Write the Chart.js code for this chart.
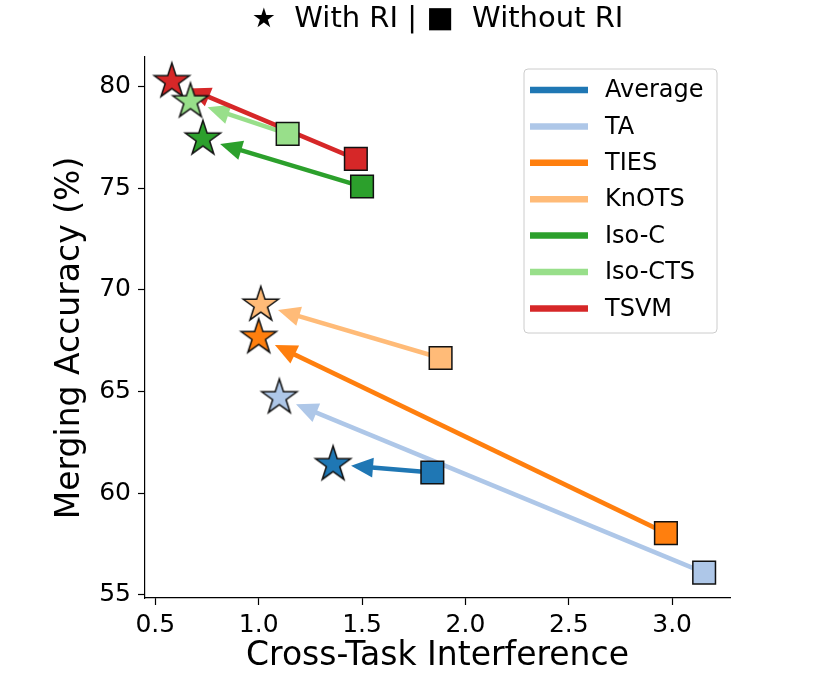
<!DOCTYPE html>
<html>
<head>
<meta charset="utf-8">
<script src="https://cdn.jsdelivr.net/npm/chart.js@4"></script>
<style>
  body { margin: 0; background: #fff; }
  canvas { display: block; }
</style>
</head>
<body>
<canvas id="chart" width="816" height="688"></canvas>
<script>
// merging methods: square = without RI, star = with RI
const methods = ["Average", "TA", "TIES", "KnOTS", "Iso-C", "Iso-CTS", "TSVM"];
const colors = ["#1f77b4", "#aec7e8", "#ff7f0e", "#ffbb78", "#2ca02c", "#98df8a", "#d62728"];

const withoutX = [1.84, 3.155, 2.97, 1.88, 1.50, 1.14, 1.47];
const withoutY = [61.02, 56.1, 58.04, 66.65, 75.08, 77.67, 76.44];
const withX = [1.36, 1.10, 1.00, 1.01, 0.73, 0.67, 0.58];
const withY = [61.42, 64.71, 67.67, 69.26, 77.43, 79.26, 80.25];

const xTicks = [0.5, 1.0, 1.5, 2.0, 2.5, 3.0];
const yTicks = [55, 60, 65, 70, 75, 80];

const FONT = "'DejaVu Sans', sans-serif";
const $ = (id) => document.getElementById(id);

function makeStar(color) {
  const c = document.createElement("canvas");
  c.width = c.height = 46;
  const g = c.getContext("2d");
  const R = 18.5, r = R * 0.382;
  g.beginPath();
  for (let k = 0; k < 10; k++) {
    const a = -Math.PI / 2 + k * Math.PI / 5;
    const rad = k % 2 ? r : R;
    const px = 23 + rad * Math.cos(a), py = 23 + rad * Math.sin(a);
    if (k === 0) g.moveTo(px, py); else g.lineTo(px, py);
  }
  g.closePath();
  g.fillStyle = color;
  g.fill();
  g.lineWidth = 1.5;
  g.lineJoin = "miter";
  g.strokeStyle = "#111";
  g.stroke();
  return c;
}

const datasets = methods.map((m, i) => ({
  label: m,
  data: [{ x: withoutX[i], y: withoutY[i] }, { x: withX[i], y: withY[i] }],
  pointStyle: ["rect", makeStar(colors[i])],
  pointRadius: 16,
  backgroundColor: colors[i],
  borderColor: "#111",
  borderWidth: 1.5,
  showLine: false,
}));

// arrows from square to star, drawn under the markers
const arrowPlugin = {
  id: "arrows",
  beforeDatasetsDraw(chart) {
    const { ctx } = chart;
    const xs = chart.scales.x, ys = chart.scales.y;
    ctx.save();
    methods.forEach((m, i) => {
      const x0 = xs.getPixelForValue(withoutX[i]), y0 = ys.getPixelForValue(withoutY[i]);
      const x1 = xs.getPixelForValue(withX[i]), y1 = ys.getPixelForValue(withY[i]);
      const len = Math.hypot(x1 - x0, y1 - y0);
      const dx = (x1 - x0) / len, dy = (y1 - y0) / len;
      const tx = x1 - dx * 18, ty = y1 - dy * 18;
      const hl = 22, hw = 10;
      const bx = tx - dx * hl, by = ty - dy * hl;
      ctx.strokeStyle = colors[i];
      ctx.fillStyle = colors[i];
      ctx.lineWidth = 4.5;
      ctx.beginPath();
      ctx.moveTo(x0, y0);
      ctx.lineTo(bx + dx * 4, by + dy * 4);
      ctx.stroke();
      ctx.beginPath();
      ctx.moveTo(tx, ty);
      ctx.lineTo(bx - dy * hw, by + dx * hw);
      ctx.lineTo(bx + dy * hw, by - dx * hw);
      ctx.closePath();
      ctx.fill();
    });
    ctx.restore();
  },
};

// legend box inside the axes, top right
const legendPlugin = {
  id: "boxLegend",
  afterDraw(chart) {
    const { ctx, chartArea } = chart;
    const w = 193, h = 264;
    const left = chartArea.right - 13 - w, top = chartArea.top + 12;
    ctx.save();
    ctx.beginPath();
    ctx.roundRect(left, top, w, h, 4);
    ctx.fillStyle = "rgba(255,255,255,0.8)";
    ctx.fill();
    ctx.strokeStyle = "#cccccc";
    ctx.lineWidth = 1;
    ctx.stroke();
    ctx.font = "24px " + FONT;
    ctx.textBaseline = "middle";
    ctx.textAlign = "left";
    methods.forEach((m, i) => {
      const y = top + 21 + i * 36.4;
      ctx.strokeStyle = colors[i];
      ctx.lineWidth = 6.5;
      ctx.beginPath();
      ctx.moveTo(left + 6, y);
      ctx.lineTo(left + 64, y);
      ctx.stroke();
      ctx.fillStyle = "#000";
      ctx.fillText(m, left + 81, y + 1);
    });
    ctx.restore();
  },
};

// title centred over the axes
const titlePlugin = {
  id: "topTitle",
  afterDraw(chart) {
    const { ctx, chartArea } = chart;
    const parts = [
      { t: "★", f: "27px " + FONT },
      { t: "  With RI | ", f: "29px " + FONT },
      { t: "■", f: "29px " + FONT },
      { t: "  Without RI", f: "29px " + FONT },
    ];
    ctx.save();
    ctx.fillStyle = "#000";
    ctx.textBaseline = "alphabetic";
    let total = 0;
    parts.forEach((p) => { ctx.font = p.f; p.w = ctx.measureText(p.t).width; total += p.w; });
    let x = (chartArea.left + chartArea.right) / 2 - total / 2;
    parts.forEach((p) => {
      ctx.font = p.f;
      ctx.fillText(p.t, x, 27);
      x += p.w;
    });
    ctx.restore();
  },
};

const axisCommon = {
  type: "linear",
  grid: { display: true, drawOnChartArea: false, drawTicks: true, tickLength: 7, tickWidth: 1.2, tickColor: "#000" },
  border: { display: true, color: "#000", width: 1.2 },
};

new Chart($("chart"), {
  type: "scatter",
  data: { datasets },
  options: {
    responsive: false,
    animation: false,
    events: [],
    layout: { padding: { left: 0, top: 57, right: 86, bottom: 0 } },
    plugins: { legend: { display: false }, tooltip: { enabled: false }, title: { display: false } },
    scales: {
      x: {
        ...axisCommon,
        position: "bottom",
        min: 0.45,
        max: 3.28,
        afterBuildTicks: (s) => { s.ticks = xTicks.map((value) => ({ value })); },
        afterFit: (s) => { s.height = 90; },
        ticks: { color: "#000", padding: 5, font: { family: FONT, size: 25 }, callback: (v) => Number(v).toFixed(1) },
        title: { display: true, text: "Cross-Task Interference", color: "#000", font: { family: FONT, size: 33 }, padding: { top: 0, bottom: 12 } },
      },
      y: {
        ...axisCommon,
        position: "left",
        min: 54.85,
        max: 81.45,
        afterBuildTicks: (s) => { s.ticks = yTicks.map((value) => ({ value })); },
        afterFit: (s) => { s.width = 145; },
        ticks: { color: "#000", padding: 7, font: { family: FONT, size: 25 }, callback: (v) => String(v) },
        title: { display: true, text: "Merging Accuracy (%)  ", color: "#000", font: { family: FONT, size: 33 }, padding: { top: 51, bottom: 0 } },
      },
    },
  },
  plugins: [arrowPlugin, legendPlugin, titlePlugin],
});
</script>
</body>
</html>
